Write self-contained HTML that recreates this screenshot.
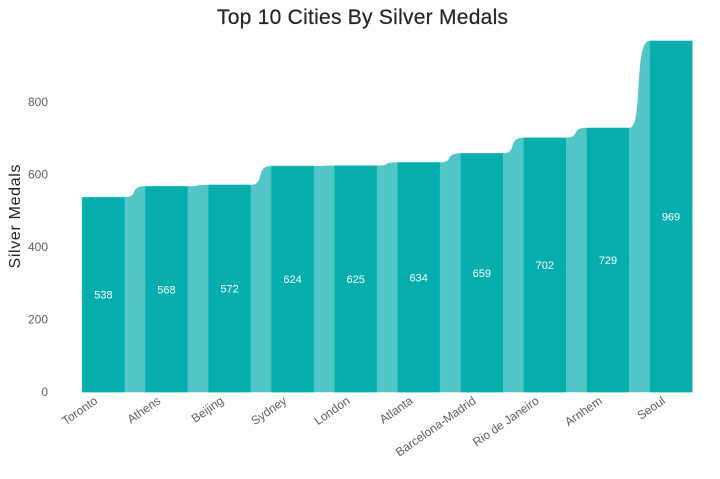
<!DOCTYPE html>
<html lang="en">
<head>
<meta charset="utf-8">
<title>Top 10 Cities By Silver Medals</title>
<style>
html,body{margin:0;padding:0;background:#fff;}
svg{display:block;font-family:"Liberation Sans",sans-serif;}
</style>
</head>
<body>
<svg id="chart" width="720" height="479" viewBox="0 0 720 479" xmlns="http://www.w3.org/2000/svg">
<rect x="0" y="0" width="720" height="479" fill="#ffffff"/>
<text x="362.5" y="24" text-anchor="middle" font-size="21" fill="#252423" stroke="#252423" stroke-width="0.2" textLength="291" lengthAdjust="spacing">Top 10 Cities By Silver Medals</text>
<text transform="translate(20,216.5) rotate(-90)" text-anchor="middle" font-size="16" fill="#252423" textLength="104" lengthAdjust="spacing">Silver Medals</text>
<g id="ticks"></g>
<g id="ribbons"></g>
<g id="bars"></g>
<g id="values"></g>
<g id="cats"></g>
</svg>
<script>
const categories = ["Toronto","Athens","Beijing","Sydney","London","Atlanta","Barcelona-Madrid","Rio de Janeiro","Arnhem","Seoul"];
const silverMedals = [538,568,572,624,625,634,659,702,729,969];
const yTicks = [0,200,400,600,800];

const NS = "http://www.w3.org/2000/svg";
const plotLeft = 82, plotRight = 692.4, baseY = 392.3, unitsPerPx = 0.3627;
const barWidth = 42.8;
const step = (plotRight - plotLeft - barWidth) / (categories.length - 1);
function xAt(i){ return plotLeft + i * step; }
function yAt(v){ return baseY - v * unitsPerPx; }
function make(tag, parent){
  const el = document.createElementNS(NS, tag);
  document.getElementById(parent).appendChild(el);
  return el;
}

yTicks.forEach(function(t){
  const el = make("text", "ticks");
  
  
  el.setAttribute("x", 48);
  el.setAttribute("y", yAt(t) + 3.7);
  el.setAttribute("text-anchor", "end");
  el.setAttribute("font-size", "12");
  el.setAttribute("fill", "#605E5C");
  el.textContent = t;
});

silverMedals.slice(0, -1).forEach(function(v, i){
  const x1 = xAt(i) + barWidth, x2 = xAt(i + 1), g = x2 - x1;
  const y1 = yAt(v), y2 = yAt(silverMedals[i + 1]);
  const el = make("path", "ribbons");
  
  
  el.setAttribute("d", "M" + x1 + " " + baseY + "L" + x1 + " " + y1 +
    "C" + (x1 + 0.7 * g) + " " + y1 + " " + (x1 + 0.2 * g) + " " + y2 + " " + x2 + " " + y2 +
    "L" + x2 + " " + baseY + "Z");
  el.setAttribute("fill", "#52C6C6");
});

silverMedals.forEach(function(v, i){
  const el = make("rect", "bars");
  
  
  el.setAttribute("x", xAt(i));
  el.setAttribute("y", yAt(v));
  el.setAttribute("width", barWidth);
  el.setAttribute("height", baseY - yAt(v));
  el.setAttribute("fill", "#05ADAD");
  el.setAttribute("stroke", "#52C6C6");
  el.setAttribute("stroke-width", "0.5");
});

silverMedals.forEach(function(v, i){
  const el = make("text", "values");
  
  
  el.setAttribute("x", xAt(i) + barWidth / 2);
  el.setAttribute("y", yAt(v / 2) + 4);
  el.setAttribute("text-anchor", "middle");
  el.setAttribute("font-size", "11");
  el.setAttribute("fill", "#ffffff");
  el.textContent = v;
});

categories.forEach(function(c, i){
  const ex = xAt(i) + barWidth / 2 - 5, ey = 402.5;
  const el = make("text", "cats");
  
  
  el.setAttribute("transform", "translate(" + ex + "," + ey + ") rotate(-35)");
  el.setAttribute("text-anchor", "end");
  el.setAttribute("font-size", "12");
  el.setAttribute("fill", "#605E5C");
  el.textContent = c;
});
</script>
</body>
</html>
